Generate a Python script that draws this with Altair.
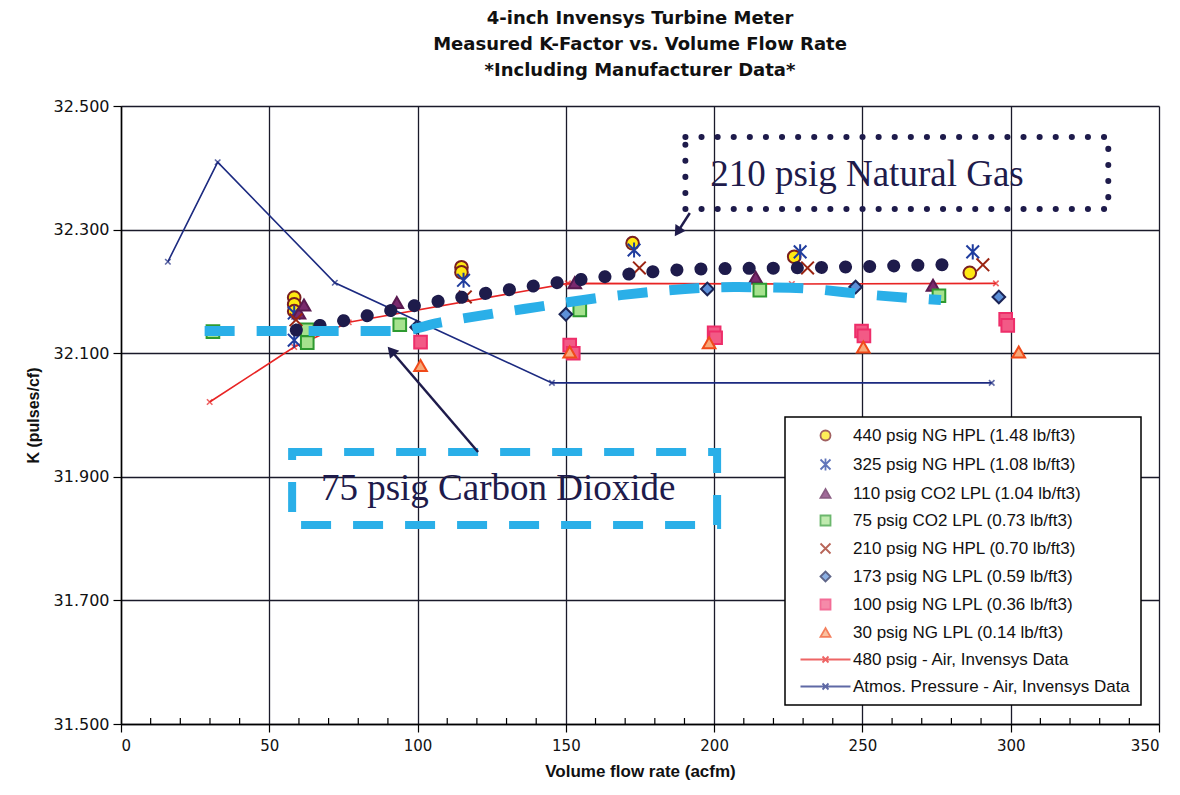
import altair as alt
import pandas as pd

SERIES = [
    "440 psig NG HPL (1.48 lb/ft3)",
    "325 psig NG HPL (1.08 lb/ft3)",
    "110 psig CO2 LPL (1.04 lb/ft3)",
    "75 psig CO2 LPL (0.73 lb/ft3)",
    "210 psig NG HPL (0.70 lb/ft3)",
    "173 psig NG LPL (0.59 lb/ft3)",
    "100 psig NG LPL (0.36 lb/ft3)",
    "30 psig NG LPL (0.14 lb/ft3)",
    "480 psig - Air, Invensys Data",
    "Atmos. Pressure - Air, Invensys Data",
]

# measured points (x = acfm, y = K)
ng440_x = [58.4, 58.4, 58.4, 114.8, 114.8, 172.5, 227.0, 286.2]
ng440_y = [32.190, 32.179, 32.168, 32.239, 32.231, 32.278, 32.256, 32.230]
ng325_x = [58.4, 58.4, 115.5, 173.0, 229.0, 287.2]
ng325_y = [32.165, 32.121, 32.218, 32.267, 32.264, 32.264]
co2110_x = [60.0, 61.7, 93.0, 153.0, 214.0, 273.8]
co2110_y = [32.165, 32.178, 32.182, 32.214, 32.223, 32.210]
co275_x = [31.0, 62.8, 62.8, 94.0, 154.7, 215.4, 275.8]
co275_y = [32.135, 32.138, 32.117, 32.146, 32.170, 32.202, 32.193]
ng210_x = [59.0, 116.1, 174.8, 231.5, 290.6]
ng210_y = [32.154, 32.191, 32.238, 32.238, 32.243]
ng173_x = [99.7, 150.0, 197.7, 247.7, 296.0]
ng173_y = [32.142, 32.163, 32.204, 32.207, 32.191]
ng100_x = [101.0, 151.3, 152.5, 200.0, 200.5, 249.7, 250.5, 298.3, 299.0]
ng100_y = [32.118, 32.113, 32.100, 32.133, 32.125, 32.136, 32.128, 32.155, 32.145]
ng30_x = [101.0, 151.3, 198.3, 250.3, 302.7]
ng30_y = [32.080, 32.102, 32.117, 32.110, 32.102]

# manufacturer data lines
air480_x = [29.9, 58.4, 76.8, 150.7, 226.2, 295.0]
air480_y = [32.021, 32.110, 32.150, 32.213, 32.212, 32.213]
atmos_x = [15.8, 32.6, 72.1, 145.3, 293.6]
atmos_y = [32.248, 32.409, 32.214, 32.052, 32.052]

# hand-drawn annotation curves
ng_curve_x = [59.1, 74.5, 98.0, 129.9, 161.7, 194.0, 226.2, 258.4, 282.6]
ng_curve_y = [32.1375, 32.152, 32.176, 32.202, 32.223, 32.236, 32.238, 32.241, 32.244]
co2_curve_x = [28.2, 93.6, 107.0, 140.6, 168.5, 206.7, 225.5, 253.7, 276.5]
co2_curve_y = [32.136, 32.136, 32.149, 32.175, 32.194, 32.207, 32.206, 32.194, 32.186]

# annotation boxes / labels / arrows
box_labels = ["210 psig Natural Gas", "75 psig Carbon Dioxide"]
box_x1 = [190.3, 57.7]
box_x2 = [332.9, 201.0]
box_y1 = [32.4498, 31.9401]
box_y2 = [32.3333, 31.822]
label_x = [198.7, 67.4]
label_y = [32.3706, 31.8625]
arrow_x1 = [191.8, 120.4]
arrow_y1 = [32.3269, 31.9401]
arrow_x2 = [187.7, 91.1]
arrow_y2 = [32.2964, 32.1039]
arrow_angle = [213, 319]

x_minor = [v for v in range(10, 350, 10) if v % 50 != 0]

X_PATH = "M-1,-1L1,1M-1,1L1,-1"
STAR_PATH = "M-1,-1L1,1M-1,1L1,-1M0,-1.2L0,1.2"
LINE_X = "M-5,0H5M-0.6,-0.6L0.6,0.6M-0.6,0.6L0.6,-0.6"

SHAPES = ["circle", STAR_PATH, "triangle-up", "square", X_PATH, "diamond",
          "square", "triangle-up", LINE_X, LINE_X]
FILLS = ["#FFE812", "transparent", "#7A2A6E", "#A6E28E", "transparent", "#5C8FD8",
         "#F25A86", "#F7A878", "transparent", "transparent"]
STROKES = ["#7A1F1F", "#1F3C9E", "#5A1A50", "#2E9A30", "#9B2412", "#1B2456",
           "#EE2E6A", "#F04A1A", "#E82424", "#1C2A80"]

NAVY = "#1E1B4B"
LBLUE = "#2AAFE8"

rows = []
for name, xs, ys in [
    (SERIES[0], ng440_x, ng440_y), (SERIES[1], ng325_x, ng325_y),
    (SERIES[2], co2110_x, co2110_y), (SERIES[3], co275_x, co275_y),
    (SERIES[4], ng210_x, ng210_y), (SERIES[5], ng173_x, ng173_y),
    (SERIES[6], ng100_x, ng100_y), (SERIES[7], ng30_x, ng30_y),
]:
    for a, b in zip(xs, ys):
        rows.append({"x": a, "y": b, "series": name})
pts = pd.DataFrame(rows)

lrows = []
for name, xs, ys in [(SERIES[8], air480_x, air480_y), (SERIES[9], atmos_x, atmos_y)]:
    for i, (a, b) in enumerate(zip(xs, ys)):
        lrows.append({"x": a, "y": b, "series": name, "order": i})
lines_df = pd.DataFrame(lrows)

ng_curve = pd.DataFrame({"x": ng_curve_x, "y": ng_curve_y})
co2_curve = pd.DataFrame({"x": co2_curve_x, "y": co2_curve_y})
boxes = pd.DataFrame({"x1": box_x1, "x2": box_x2, "y1": box_y1, "y2": box_y2,
                      "label": box_labels, "lx": label_x, "ly": label_y})
arrows = pd.DataFrame({"x1": arrow_x1, "y1": arrow_y1, "x2": arrow_x2, "y2": arrow_y2,
                       "angle": arrow_angle})
minor = pd.DataFrame({"x": x_minor})

xscale = alt.Scale(domain=[0, 350], nice=False)
yscale = alt.Scale(domain=[31.5, 32.5], nice=False)
X = alt.X("x:Q", scale=xscale,
          axis=alt.Axis(values=list(range(0, 351, 50)), title="Volume flow rate (acfm)",
                        titleFontSize=17, titleFont="Liberation Sans", titleFontWeight="bold"))
Y = alt.Y("y:Q", scale=yscale,
          axis=alt.Axis(values=[31.5, 31.7, 31.9, 32.1, 32.3, 32.5], format=".3f",
                        title="K (pulses/cf)", titleFontSize=16, titleFont="Liberation Sans",
                        titleFontWeight="bold"))

leg = alt.Legend(title=None)
fill_enc = alt.Fill("series:N", scale=alt.Scale(domain=SERIES, range=FILLS), legend=leg)
stroke_enc = alt.Stroke("series:N", scale=alt.Scale(domain=SERIES, range=STROKES), legend=leg)
shape_enc = alt.Shape("series:N", scale=alt.Scale(domain=SERIES, range=SHAPES), legend=leg)

minor_ticks = alt.Chart(minor).mark_rule(color="black", strokeWidth=1.2).encode(
    x=alt.X("x:Q", scale=xscale), y=alt.value(618), y2=alt.value(612))

man_lines = alt.Chart(lines_df).mark_line(strokeWidth=1.6).encode(
    x=X, y=Y, stroke=stroke_enc, order="order:Q", detail="series:N")
man_marks = alt.Chart(lines_df).mark_point(shape=X_PATH, size=30, strokeWidth=1.6,
                                           filled=False).encode(
    x="x:Q", y="y:Q", stroke=stroke_enc)

points = alt.Chart(pts).mark_point(size=160, strokeWidth=2, opacity=1).encode(
    x="x:Q", y="y:Q", fill=fill_enc, stroke=stroke_enc, shape=shape_enc)

dotted = alt.Chart(ng_curve).mark_line(color=NAVY, strokeWidth=13, strokeDash=[0.1, 24],
                                       strokeCap="round", interpolate="monotone").encode(
    x="x:Q", y="y:Q")
dashed = alt.Chart(co2_curve).mark_line(color=LBLUE, strokeWidth=10, strokeDash=[30, 22],
                                        interpolate="monotone").encode(x="x:Q", y="y:Q")

box_ng = alt.Chart(boxes.iloc[[0]]).mark_rect(fill="transparent", stroke=NAVY, strokeWidth=6,
                                              strokeDash=[0.1, 16], strokeCap="round").encode(
    x="x1:Q", x2="x2:Q", y="y1:Q", y2="y2:Q")
box_co2 = alt.Chart(boxes.iloc[[1]]).mark_rect(fill="transparent", stroke=LBLUE, strokeWidth=8,
                                               strokeDash=[30, 22]).encode(
    x="x1:Q", x2="x2:Q", y="y1:Q", y2="y2:Q")
box_text = alt.Chart(boxes).mark_text(font="Liberation Serif", fontSize=37, color=NAVY,
                                      align="left", baseline="alphabetic").encode(
    x="lx:Q", y="ly:Q", text="label:N")

arrow_line = alt.Chart(arrows).mark_rule(color=NAVY, strokeWidth=2.5).encode(
    x="x1:Q", y="y1:Q", x2="x2:Q", y2="y2:Q")
arrow_head = alt.Chart(arrows).mark_point(shape="triangle-up", filled=True, size=150,
                                          color=NAVY, opacity=1).encode(
    x="x2:Q", y="y2:Q", angle=alt.Angle("angle:Q", scale=None))

chart = alt.layer(
    minor_ticks, man_lines, man_marks, points, dotted, dashed,
    box_ng, box_co2, box_text, arrow_line, arrow_head
).properties(
    width=1038, height=618,
    title=alt.Title(["4-inch Invensys Turbine Meter",
                     "Measured K-Factor vs. Volume Flow Rate",
                     "*Including Manufacturer Data*"]),
    autosize=alt.AutoSizeParams(type="none"),
    padding={"left": 113, "top": 98, "right": 13, "bottom": 58},
    background="white",
).configure_view(stroke=None).configure_title(
    font="DejaVu Sans", fontSize=18, fontWeight="bold", color="#111111",
    lineHeight=26, anchor="middle", offset=18,
).configure_axis(
    grid=True, gridColor="#1a1a2a", gridWidth=1.3, domainColor="black", domainWidth=1.5,
    tickColor="black", tickSize=8, tickWidth=1.2, labelColor="#111111",
    titleColor="#111111",
).configure_axisX(
    labelFont="DejaVu Sans", labelFontSize=15, labelPadding=6, titlePadding=10,
).configure_axisY(
    labelFont="DejaVu Sans", labelFontSize=16, labelPadding=4, titlePadding=12,
).configure_legend(
    orient="none", legendX=664, legendY=311, padding=10, fillColor="white",
    strokeColor="black", strokeWidth=1.5, labelFont="Liberation Sans", labelFontSize=17,
    labelColor="#111111", symbolSize=100, symbolStrokeWidth=1.8, rowPadding=9,
    symbolOffset=22, labelOffset=19, labelLimit=400,
)

chart.save("out.html", embed_options={"renderer": "svg", "actions": False})
